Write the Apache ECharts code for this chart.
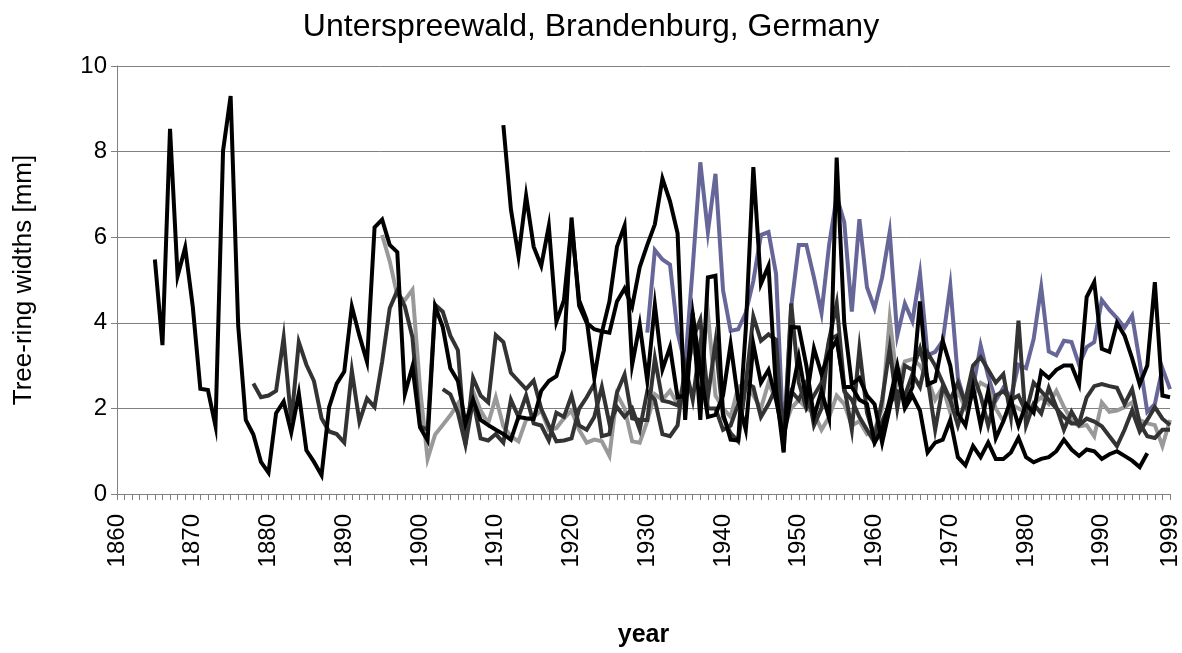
<!DOCTYPE html>
<html><head><meta charset="utf-8">
<script src="https://cdn.jsdelivr.net/npm/echarts@6/dist/echarts.min.js"></script>
<style>html,body{margin:0;padding:0;background:#fff}#c{width:1182px;height:653px}</style>
</head><body><div id="c"></div>
<script>
const firstYear = 1860, lastYear = 1999;
const labelYears = [1860,1870,1880,1890,1900,1910,1920,1930,1940,1950,1960,1970,1980,1990,1999];
const yTicks = [0,2,4,6,8,10];

const startS1 = 1865;
const treeS1 = [5.48,3.48,8.53,5.09,5.76,4.38,2.46,2.43,1.59,8.02,
 9.30,3.93,1.73,1.39,0.75,0.50,1.89,2.16,1.44,2.35,
 1.02,0.75,0.44,2.03,2.58,2.86,4.38,3.70,3.09,6.23,
 6.41,5.82,5.65,2.34,2.98,1.56,1.25,4.38,3.90,2.94,
 2.64,1.65,2.20,1.73,1.61,1.50,1.40,1.27,1.80,1.77,
 1.75,2.41,2.64,2.75,3.36,6.46,4.40,4.00,3.85,3.80,
 3.77,4.50,4.80,4.38,5.30,5.82,6.30,7.37,6.84,6.09,
 1.73,4.23,1.73,5.06,5.10,1.88,1.27,1.25,3.85,7.64,
 4.91,5.33,2.41,0.97,3.90,3.89,3.00,1.80,2.41,1.77,
 7.86,4.00,2.56,2.71,2.30,2.10,1.20,2.00,2.90,2.00,
 2.30,1.95,0.97,1.20,1.27,1.73,0.86,0.67,1.12,0.86,
 1.20,0.82,0.82,0.97,1.31,0.86,0.74,0.82,0.86,1.00,
 1.27,1.04,0.89,1.04,1.00,0.82,0.93,1.00,0.89,0.78,
 0.63,0.95];

const startB2 = 1911;
const treeB2 = [8.62,6.65,5.55,6.97,5.78,5.33,6.26,4.02,4.53,6.30,
 4.53,4.07,2.71,3.77,4.50,5.78,6.27,3.02,3.96,2.64,
 4.42,2.91,3.43,2.26,2.30,4.20,2.90,1.80,1.85,2.30,
 3.50,2.20,1.50,3.50,2.60,2.90,2.20,1.30,2.30,3.20,
 2.20,3.40,2.80,3.30,3.60,2.50,2.50,2.20,2.10,1.20,
 1.50,2.20,3.00,2.10,2.50,4.50,2.56,2.64,3.58,3.00,
 1.88,1.60,2.50,1.60,2.40,1.30,1.70,2.20,1.60,2.10,
 1.90,2.86,2.71,2.90,3.00,3.00,2.56,4.60,4.95,3.39,
 3.32,4.00,3.70,3.17,2.56,3.00,4.95,2.30,2.26];

const startD1 = 1878;
const treeD1 = [2.58,2.26,2.30,2.41,3.66,1.69,3.55,3.02,2.64,1.77,
 1.46,1.40,1.20,2.88,1.69,2.23,2.03,3.09,4.34,4.75,
 4.38,3.66,1.58,1.50,4.42,4.26,3.70,3.36,1.16,2.71,
 2.30,2.14,3.71,3.55,2.83,2.64,2.45,2.65,1.99,1.60,
 1.23,1.25,1.30,1.99,2.26,2.57,1.35,1.40,2.37,2.79,
 1.77,1.73,1.73,3.17,2.18,2.14,2.07,2.56,3.62,4.07,
 2.26,3.55,1.80,1.42,1.23,2.56,4.15,3.58,3.73,3.60,
 1.00,4.45,2.60,2.00,2.30,2.60,3.60,4.45,2.50,1.50,
 3.40,1.90,1.30,2.20,3.40,2.00,3.00,2.90,3.40,2.70,
 1.50,2.50,2.20,1.60,2.20,3.00,3.20,2.90,2.60,2.80,
 1.80,4.05,1.60,2.10,1.88,2.48,2.03,1.50,1.92,1.61,
 1.76,1.69,1.58,1.35,1.12,1.50,1.95,1.46,1.73,2.03,
 1.76,1.61];

const startD2 = 1903;
const treeD2 = [2.45,2.33,1.90,1.15,2.20,1.30,1.25,1.40,1.20,2.20,
 1.80,2.30,1.65,1.60,1.25,1.90,1.80,2.30,1.60,1.50,
 1.80,2.50,1.65,2.03,1.80,2.00,1.50,2.40,2.20,1.40,
 1.35,1.60,3.00,2.20,3.50,2.00,2.00,1.50,1.60,2.10,
 2.60,2.50,1.80,2.10,2.50,1.80,2.40,2.20,2.60,1.60,
 2.00,3.60,3.70,2.40,2.20,1.80,1.50,1.20,1.70,2.10,
 2.40,2.30,2.80,2.50,3.30,3.00,2.60,2.20,2.60,2.10,
 2.80,2.30,1.60,2.30,2.40,2.20,2.30,1.90,2.60,2.40,
 2.20,2.00,1.80,1.65,1.65,2.26,2.52,2.57,2.52,2.48,
 2.10,2.45,1.65,1.35,1.31,1.50,1.50];

const startG1 = 1895;
const treeG1 = [6.05,5.44,4.64,4.53,4.77,2.48,0.82,1.39,1.61,1.84,
 2.11,1.54,2.41,1.95,1.65,2.26,1.58,1.35,1.23,1.73,
 1.80,1.95,1.50,1.54,1.77,1.95,1.50,1.20,1.27,1.23,
 0.89,2.33,2.00,1.23,1.20,1.70,2.33,2.20,2.41,2.10,
 2.70,3.50,2.80,4.23,2.30,2.00,1.80,2.50,2.60,2.30,
 2.00,2.60,2.20,1.50,2.00,2.20,2.00,1.90,1.50,1.80,
 2.30,2.10,1.60,1.70,1.40,1.50,2.00,4.10,2.60,3.10,
 3.15,3.00,2.70,2.20,2.50,1.90,2.40,2.00,2.30,2.60,
 2.50,2.00,1.70,2.10,2.00,1.90,2.10,2.26,2.10,2.41,
 2.03,1.73,1.58,1.61,1.35,2.14,1.92,1.95,2.03,2.14,
 1.73,1.65,1.61,1.12,1.73];

const startBlue = 1930;
const treeBlue = [3.77,5.70,5.48,5.36,3.77,3.02,5.30,7.75,6.12,7.48,
 4.76,3.81,3.85,4.23,4.98,6.05,6.12,5.14,1.20,4.38,
 5.82,5.82,5.06,4.23,5.82,6.95,6.35,4.26,6.42,4.83,
 4.34,5.06,6.12,3.70,4.45,4.04,5.15,3.24,3.32,3.58,
 4.87,2.71,2.10,2.48,3.47,2.75,2.18,2.48,2.26,3.02,
 2.94,3.62,4.83,3.33,3.24,3.58,3.55,3.02,3.43,3.55,
 4.53,4.30,4.11,3.89,4.17,3.09,1.92,2.10,2.94,2.45];

const years = [];
for (let y = firstYear; y <= lastYear; y++) years.push(String(y));

function pad(start, vals) {
  const out = [];
  for (let y = firstYear; y <= lastYear; y++) {
    const i = y - start;
    out.push(i >= 0 && i < vals.length ? vals[i] : null);
  }
  return out;
}

const seriesDefs = [
  {name: 'Tree blue', start: startBlue, vals: treeBlue, color: '#666699'},
  {name: 'Tree G1', start: startG1, vals: treeG1, color: '#999999'},
  {name: 'Tree D2', start: startD2, vals: treeD2, color: '#333333'},
  {name: 'Tree D1', start: startD1, vals: treeD1, color: '#333333'},
  {name: 'Tree B2', start: startB2, vals: treeB2, color: '#000000'},
  {name: 'Tree S1', start: startS1, vals: treeS1, color: '#000000'}
];

const chart = echarts.init(document.getElementById('c'));
const fontFam = 'Liberation Sans, Arial, sans-serif';
chart.setOption({
  animation: false,
  backgroundColor: '#ffffff',
  title: {
    text: 'Unterspreewald, Brandenburg, Germany',
    left: 'center', top: 6,
    textStyle: {fontFamily: fontFam, fontSize: 32, fontWeight: 'normal', color: '#000'}
  },
  grid: {left: 117, right: 12, top: 66, bottom: 147},
  xAxis: {
    type: 'category', data: years, boundaryGap: false,
    name: 'year', nameLocation: 'middle', nameGap: 129,
    nameTextStyle: {fontFamily: fontFam, fontSize: 25, fontWeight: 'bold', color: '#000'},
    axisLine: {lineStyle: {color: '#808080', width: 1}},
    axisTick: {show: true, interval: 0, length: 6, lineStyle: {color: '#808080'}},
    axisLabel: {
      rotate: 90, margin: 20, fontFamily: fontFam, fontSize: 24, color: '#000',
      interval: function (idx, val) { return labelYears.indexOf(Number(val)) >= 0; }
    },
    splitLine: {show: false}
  },
  yAxis: {
    type: 'value', min: yTicks[0], max: yTicks[yTicks.length - 1], interval: 2,
    name: 'Tree-ring widths [mm]', nameLocation: 'middle', nameGap: 80,
    nameTextStyle: {fontFamily: fontFam, fontSize: 26, color: '#000'},
    axisLine: {show: true, lineStyle: {color: '#808080', width: 1}},
    axisTick: {show: true, length: 6, lineStyle: {color: '#808080'}},
    axisLabel: {margin: 10, fontFamily: fontFam, fontSize: 24, color: '#000'},
    splitLine: {lineStyle: {color: '#808080', width: 1}}
  },
  series: seriesDefs.map(s => ({
    name: s.name, type: 'line', data: pad(s.start, s.vals),
    showSymbol: false, symbol: 'none', connectNulls: false,
    lineStyle: {color: s.color, width: 4, join: 'miter'},
    itemStyle: {color: s.color}
  }))
});
</script></body></html>
